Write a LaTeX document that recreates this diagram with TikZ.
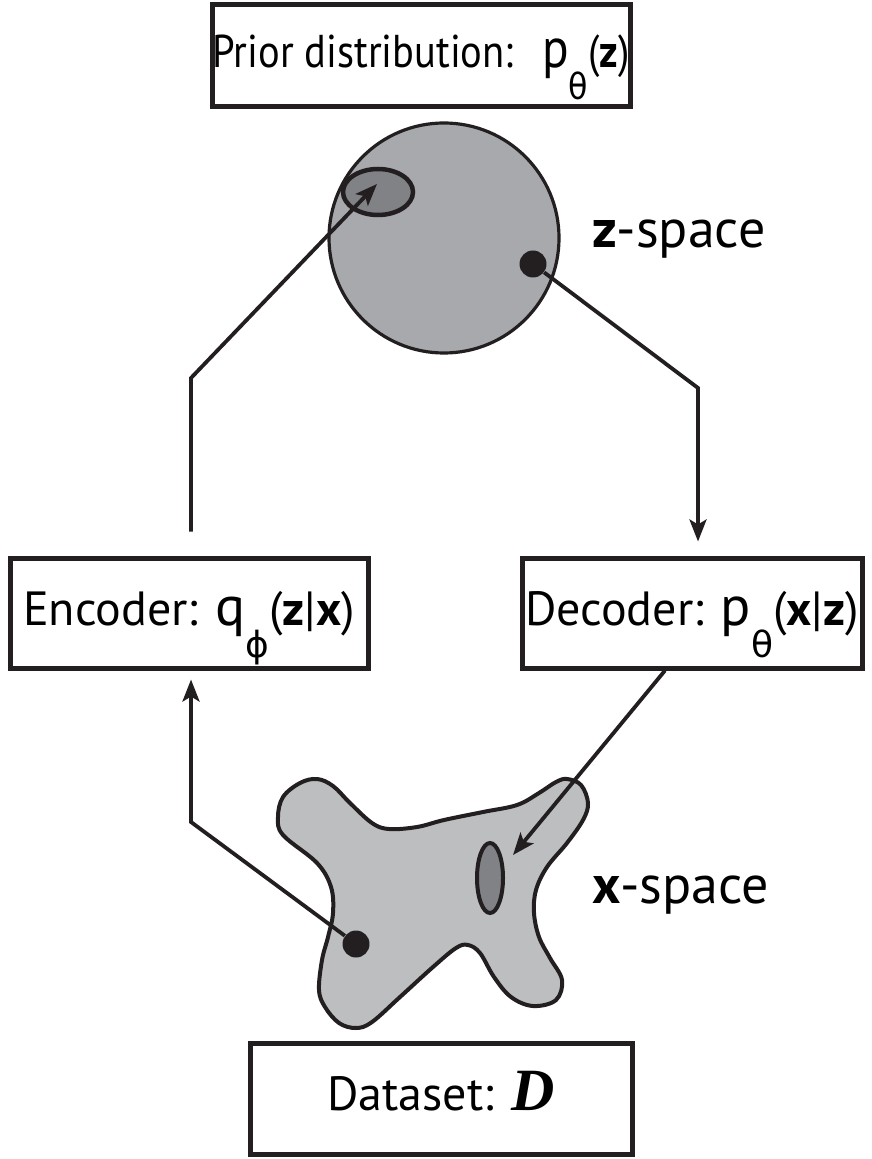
\documentclass[tikz,border=0pt]{standalone}
\usepackage{fontspec}
\setmainfont{PT Sans}
\newfontfamily\greekfont{DejaVu Sans}
\newfontfamily\datafont{Liberation Serif}
\usepackage{xcolor}
\usetikzlibrary{arrows.meta, calc}

\definecolor{zgray}{HTML}{A7A9AC}
\definecolor{xgray}{HTML}{BCBEC0}
\definecolor{postgray}{HTML}{808285}
\definecolor{ink}{HTML}{231F20}

% subscript set low, below the baseline
\newcommand{\lowsub}[1]{\raisebox{-16pt}{\fontsize{18}{18}\selectfont\greekfont #1}}
% the larger p and q of the densities
\newcommand{\dens}[1]{{\fontsize{28}{28}\selectfont #1}}

\begin{document}
\begin{tikzpicture}[x=0.5pt, y=-0.5pt,
    box/.style={draw=ink, line width=2.5pt, inner sep=0pt, minimum height=55pt,
      text height=17pt, text depth=5pt, font=\fontsize{24}{28}\selectfont},
    conn/.style={draw=ink, line width=1.9pt},
    tip/.style={-{Stealth[length=11pt, width=8.5pt, inset=2.5pt]}},
    dot/.style={circle, fill=ink, inner sep=0pt, minimum size=13.5pt},
    spacelabel/.style={anchor=base west, font=\fontsize{27}{30}\selectfont}]
  \useasboundingbox (0,0) rectangle (871,1159);

  % Boxes
  \node[box, minimum width=209pt, minimum height=51pt, font=\fontsize{23}{27}\selectfont]
    (prior) at (421,56)
    {\scalebox{0.88}[1]{Prior distribution:\hspace{0.35em} \dens{p}\lowsub{θ}(\textbf{z})}};
  \node[box, minimum width=179pt] (encoder) at (189,613)
    {Encoder: \dens{q}\lowsub{ϕ}(\textbf{z}|\textbf{x})};
  \node[box, minimum width=170pt] (decoder) at (692,613)
    {Decoder: \dens{p}\lowsub{θ}(\textbf{x}|\textbf{z})};
  \node[box, minimum width=191pt, minimum height=55.5pt] (dataset) at (441,1098.5)
    {Dataset: {\datafont\bfseries\itshape\fontsize{30}{30}\selectfont D}};

  % z-space
  \draw[ink, line width=1.6pt, fill=zgray] (444,238) circle[radius=115];
  \draw[ink, line width=2.25pt, fill=postgray] (378,192) ellipse[x radius=35, y radius=23];
  \node[spacelabel] (zlabel) at (585,248) {\textbf{z}-space};

  % x-space
  \draw[ink, line width=2pt, fill=xgray] plot[smooth cycle, tension=0.6] coordinates {
    (317,779) (333,786) (350,803) (372,823) (389,829) (417,827) (444,820)
    (483,812) (517,805) (539,793) (556,782) (567,779) (581,785) (588,803)
    (583,820) (567,843) (547,867) (536,890) (534,913) (539,937) (550,958)
    (562,980) (556,1000) (533,1006) (511,997) (494,977) (480,953) (468,945)
    (456,948) (433,967) (400,997) (372,1022) (356,1028) (339,1023) (325,1007)
    (319,990) (322,960) (328,937) (333,913) (331,887) (317,863) (283,835)
    (278,817) (283,797) (300,783)};
  \draw[ink, line width=2pt, fill=postgray] (490,878) ellipse[x radius=13, y radius=35];
  \node[spacelabel] (xlabel) at (585,903) {\textbf{x}-space};

  % Points
  \node[dot] (zdot) at (533,264) {};
  \node[dot] (xdot) at (356,944) {};

  % Bends and arrow ends
  \coordinate (encup) at (191,378);
  \coordinate (ztip) at (377,184);
  \coordinate (decdown) at (698,388);
  \coordinate (decout) at (665,668);
  \coordinate (xtip) at (513,855);
  \coordinate (encin) at (191,822);

  % Connectors
  \draw[conn, tip, shorten <=12pt] (encup |- encoder.north) -- (encup) -- (ztip);
  \draw[conn, tip, shorten >=7pt] (zdot) -- (decdown) -- (decdown |- decoder.north);
  \draw[conn, tip] (decout |- decoder.south) -- (xtip);
  \draw[conn, tip, shorten >=4.5pt] (xdot) -- (encin) -- (encin |- encoder.south);
\end{tikzpicture}
\end{document}
